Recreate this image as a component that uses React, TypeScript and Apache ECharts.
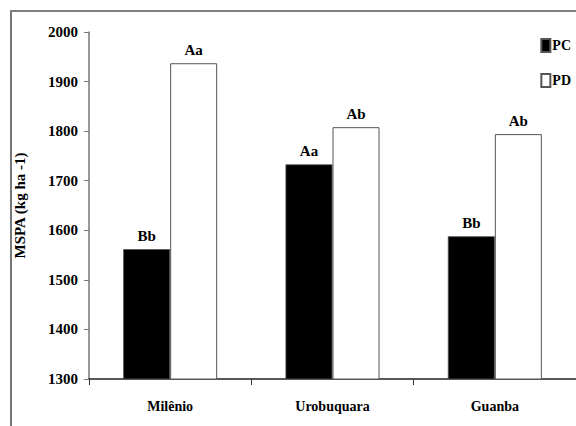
import React, { useEffect, useRef } from "react";
import * as echarts from "echarts";

const categories = ["Milênio", "Urobuquara", "Guanba"];
const pcValues = [1562, 1733, 1588];
const pdValues = [1937, 1808, 1794];
const pcLetters = ["Bb", "Aa", "Bb"];
const pdLetters = ["Aa", "Ab", "Ab"];
const yTicks = { min: 1300, max: 2000, interval: 100 };

const FONT = "serif";

export default function App() {
  const ref = useRef<HTMLDivElement>(null);

  useEffect(() => {
    if (!ref.current) return;
    const chart = echarts.init(ref.current, null, { renderer: "svg" });
    const labelStyle = (letters: string[]) => ({
      show: true,
      position: "top" as const,
      distance: 6,
      fontFamily: FONT,
      fontWeight: "bold" as const,
      fontSize: 15,
      color: "#000",
      formatter: (p: any) => letters[p.dataIndex],
    });
    chart.setOption({
      animation: false,
      backgroundColor: "#fff",
      grid: { left: 89, top: 32, width: 498, height: 347 },
      legend: {
        orient: "vertical",
        right: 0,
        top: 33,
        itemGap: 20,
        itemWidth: 9,
        itemHeight: 13,
        icon: "rect",
        textStyle: { fontFamily: FONT, fontWeight: "bold", fontSize: 14, color: "#000", padding: [0, 0, 0, -3] },
        data: ["PC", "PD"],
      },
      xAxis: {
        type: "category",
        data: categories,
        axisLine: { lineStyle: { color: "#222", width: 1.5 } },
        axisTick: { show: true, length: 6, lineStyle: { color: "#333" } },
        axisLabel: {
          fontFamily: FONT,
          fontWeight: "bold",
          fontSize: 14,
          color: "#000",
          margin: 20,
        },
      },
      yAxis: {
        type: "value",
        min: yTicks.min,
        max: yTicks.max,
        interval: yTicks.interval,
        name: "MSPA (kg ha -1)",
        nameLocation: "middle",
        nameGap: 62,
        nameTextStyle: { fontFamily: FONT, fontWeight: "bold", fontSize: 15, color: "#000" },
        axisLine: { show: true, lineStyle: { color: "#777", width: 1.5 } },
        axisTick: { show: true, length: 5, lineStyle: { color: "#777" } },
        splitLine: { show: false },
        axisLabel: {
          fontFamily: FONT,
          fontWeight: "bold",
          fontSize: 15,
          color: "#000",
          margin: 11,
          formatter: (v: number) => String(v),
        },
      },
      series: [
        {
          name: "PC",
          type: "bar",
          data: pcValues,
          barWidth: 47,
          barGap: "0%",
          itemStyle: { color: "#000", borderColor: "#555", borderWidth: 0.8 },
          label: labelStyle(pcLetters),
        },
        {
          name: "PD",
          type: "bar",
          data: pdValues,
          barWidth: 47,
          itemStyle: { color: "#fff", borderColor: "#555", borderWidth: 1 },
          label: labelStyle(pdLetters),
        },
      ],
      graphic: [
        { type: "line", shape: { x1: 10, y1: 11, x2: 576, y2: 11 }, style: { stroke: "#000", lineWidth: 1 } },
        { type: "line", shape: { x1: 11, y1: 11, x2: 11, y2: 426 }, style: { stroke: "#777", lineWidth: 2 } },
      ],
    });
    return () => chart.dispose();
  }, []);

  return (
    <div
      ref={ref}
      style={{ position: "fixed", left: 0, top: 0, width: 576, height: 426 }}
    />
  );
}
